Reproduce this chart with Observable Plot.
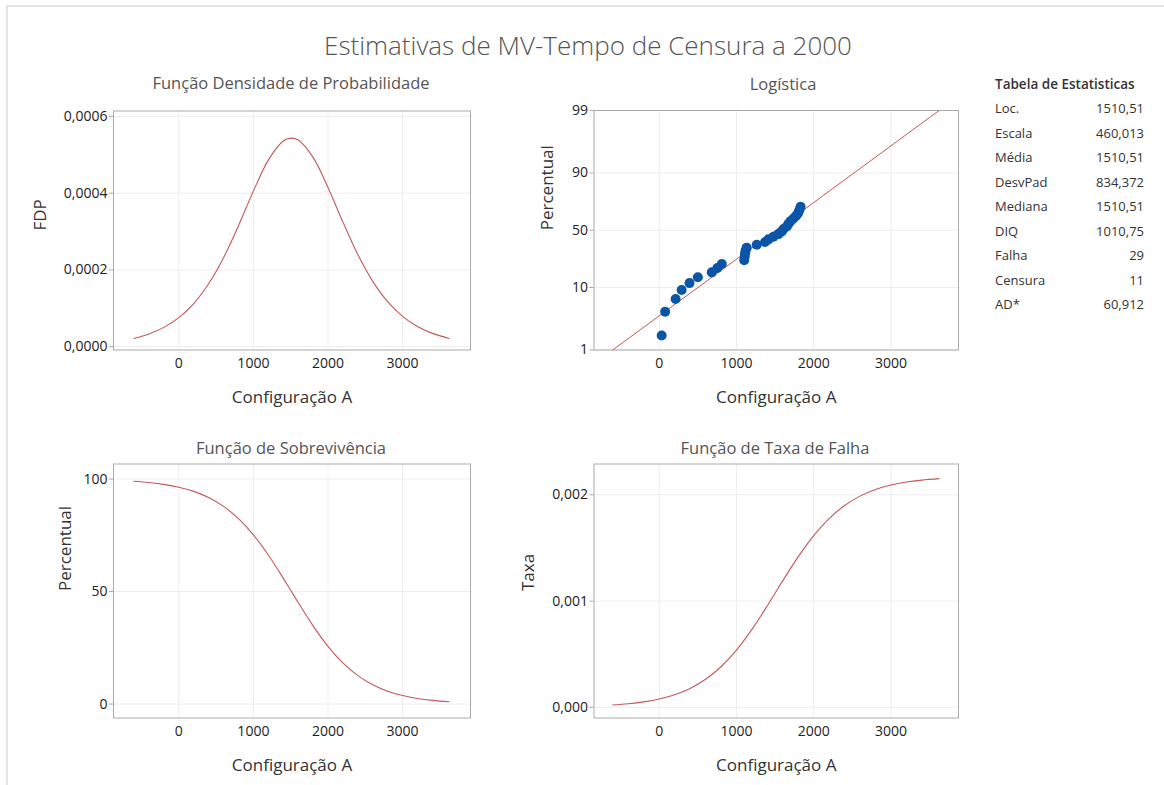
<!DOCTYPE html>
<html>
<head>
<meta charset="utf-8">
<script src="https://cdn.jsdelivr.net/npm/d3@7"></script>
<script src="https://cdn.jsdelivr.net/npm/@observablehq/plot@0.6"></script>
<style>
  body { margin: 0; background: #fff; font-family: "Open Sans", sans-serif; }
  #wrap { position: relative; width: 1164px; height: 785px; overflow: hidden; background: #fff; }
  #border { position: absolute; left: 6px; top: 5px; width: 1200px; height: 800px;
            border-left: 2px solid #e3e3e3; border-top: 2px solid #e3e3e3; }
  .abs { position: absolute; }
  .ctr { transform: translate(-50%, -50%); white-space: nowrap; }
  .main-title { font-size: 26px; color: #555; font-weight: 300; }
  .panel-title { font-size: 16.5px; color: #555; }
  .stat-head { font-size: 13.5px; color: #333; font-weight: 600; }
  .stat { font-size: 13px; color: #333; white-space: nowrap; transform: translateY(-50%); }
</style>
</head>
<body>
<div id="wrap">
  <div id="border"></div>
</div>
<script>
// ---------------- data ----------------
const xGrid = [-603, -400, -200, 0, 200, 400, 600, 800, 1000, 1200, 1400, 1500, 1600, 1800, 2000, 2200, 2400, 2600, 2800, 3000, 3200, 3400, 3624];
const pdfValues = [0.0000215, 0.0000331, 0.0000503, 0.0000757, 0.0001125, 0.0001639, 0.0002319, 0.0003151, 0.0004053, 0.0004860, 0.0005357, 0.0005434, 0.0005384, 0.0004931, 0.0004146, 0.0003245, 0.0002399, 0.0001702, 0.0001172, 0.0000791, 0.0000526, 0.0000347, 0.0000215];
const survivalValues = [99.0, 98.45, 97.63, 96.39, 94.53, 91.79, 87.86, 82.41, 75.21, 66.26, 55.98, 50.57, 45.15, 34.77, 25.65, 18.26, 12.63, 8.56, 5.72, 3.78, 2.48, 1.62, 1.0];
const hazardValues = [0.0000217, 0.0000336, 0.0000515, 0.0000785, 0.0001190, 0.0001785, 0.0002639, 0.0003824, 0.0005389, 0.0007335, 0.0009569, 0.0010745, 0.0011924, 0.0014180, 0.0016163, 0.0017769, 0.0018993, 0.0019878, 0.0020495, 0.0020917, 0.0021199, 0.0021386, 0.0021521];

const failTimes = [31, 76, 212, 290, 392, 500, 680, 752, 810, 1100, 1106, 1110, 1118, 1132, 1263, 1371, 1414, 1479, 1544, 1587, 1609, 1652, 1674, 1700, 1738, 1773, 1800, 1815, 1830];
const failPct = [1.73, 4.21, 6.68, 9.16, 11.63, 14.11, 16.58, 19.06, 21.53, 24.01, 26.49, 28.96, 31.44, 33.91, 36.39, 38.86, 41.34, 43.81, 46.29, 48.76, 51.24, 53.71, 56.19, 58.66, 61.14, 63.61, 66.09, 68.56, 71.04];
const fitX = [-603, 3624];
const fitPct = [1, 99];

const xTicks = [0, 1000, 2000, 3000];
const pdfTicks = [0, 0.0002, 0.0004, 0.0006];
const pctProbTicks = [1, 10, 50, 90, 99];
const survTicks = [0, 50, 100];
const hazardTicks = [0, 0.001, 0.002];

const statLabels = ["Loc.", "Escala", "Média", "DesvPad", "Mediana", "DIQ", "Falha", "Censura", "AD*"];
const statValues = ["1510,51", "460,013", "1510,51", "834,372", "1510,51", "1010,75", "29", "11", "60,912"];

const mainTitle = "Estimativas de MV-Tempo de Censura a 2000";
const panelTitles = ["Função Densidade de Probabilidade", "Logística", "Função de Sobrevivência", "Função de Taxa de Falha"];
const xLabel = "Configuração A";

// ---------------- helpers ----------------
const RED = "#c4585a";
const BLUE = "#0a55a8";
const GRID = "#ededed";
const FRAME = "#a9a9a9";
const wrap = document.getElementById("wrap");
const logit = p => Math.log(p / (100 - p));

function addText(txt, cls, x, y) {
  const d = document.createElement("div");
  d.className = "abs " + cls;
  d.style.left = x + "px"; d.style.top = y + "px";
  d.textContent = txt;
  wrap.appendChild(d);
  return d;
}

function place(svg, left, top) {
  svg.style.position = "absolute";
  svg.style.left = left + "px";
  svg.style.top = top + "px";
  wrap.appendChild(svg);
}

const baseStyle = {fontFamily: "Open Sans, sans-serif", fontSize: "14px", color: "#222", background: "transparent", overflow: "visible"};

function panel({left, top, width, height, mL, mR, mT, mB, xDomain, yDomain, yTicks, yFormat, yLabel, yLabelDx, marks}) {
  const chart = Plot.plot({
    width, height,
    marginLeft: mL, marginRight: mR, marginTop: mT, marginBottom: mB,
    style: baseStyle,
    x: {domain: xDomain},
    y: {domain: yDomain},
    marks: [
      Plot.gridX(xTicks, {stroke: GRID, strokeOpacity: 1}),
      Plot.gridY(yTicks, {stroke: GRID, strokeOpacity: 1}),
      Plot.frame({stroke: FRAME, strokeWidth: 1}),
      Plot.axisX(xTicks, {tickSize: 0, tickPadding: 8, tickFormat: d3.format("d"), label: null}),
      Plot.axisY(yTicks, {tickSize: 4, tickPadding: 2, tickFormat: yFormat, label: null, stroke: FRAME}),
      ...marks,
      Plot.text([xLabel], {frameAnchor: "bottom", dy: 53, fontSize: 17, fill: "#333"}),
      Plot.text([yLabel], {frameAnchor: "left", dx: -yLabelDx, rotate: -90, fontSize: 17, fill: "#333"})
    ]
  });
  place(chart, left, top);
}

// ---------------- titles ----------------
addText(mainTitle, "ctr main-title", 588, 45);
addText(panelTitles[0], "ctr panel-title", 291, 82);
addText(panelTitles[1], "ctr panel-title", 783, 83);
addText(panelTitles[2], "ctr panel-title", 291, 447);
addText(panelTitles[3], "ctr panel-title", 775, 447);

const curve = xGrid.map((x, i) => ({x, pdf: pdfValues[i], surv: survivalValues[i], haz: hazardValues[i]}));
const pts = failTimes.map((x, i) => ({x, p: failPct[i]}));
const fit = fitX.map((x, i) => ({x, p: fitPct[i]}));

// Panel 1: PDF
panel({
  left: 0, top: 60, width: 500, height: 360, mL: 113, mR: 30, mT: 50.5, mB: 70.5,
  xDomain: [-875, 3910], yDomain: [-0.0000086, 0.000614],
  yTicks: pdfTicks, yFormat: v => v.toFixed(4).replace(".", ","),
  yLabel: "FDP", yLabelDx: 73,
  marks: [Plot.line(curve, {x: "x", y: "pdf", stroke: RED, strokeWidth: 1.1, curve: "catmull-rom"})]
});

// Panel 2: Logistic probability plot
panel({
  left: 500, top: 60, width: 480, height: 360, mL: 93.5, mR: 22, mT: 50, mB: 70.5,
  xDomain: [-845, 3875], yDomain: [logit(1), logit(99)],
  yTicks: pctProbTicks.map(logit), yFormat: v => String(Math.round(100 / (1 + Math.exp(-v)))),
  yLabel: "Percentual", yLabelDx: 46,
  marks: [
    Plot.line(fit, {x: "x", y: d => logit(d.p), stroke: RED, strokeWidth: 1}),
    Plot.dot(pts, {x: "x", y: d => logit(d.p), fill: BLUE, r: 5})
  ]
});

// Panel 3: Survival
panel({
  left: 0, top: 420, width: 500, height: 365, mL: 113, mR: 30, mT: 43.5, mB: 67.5,
  xDomain: [-875, 3910], yDomain: [-6.2, 106.7],
  yTicks: survTicks, yFormat: d3.format("d"),
  yLabel: "Percentual", yLabelDx: 48,
  marks: [Plot.line(curve, {x: "x", y: "surv", stroke: RED, strokeWidth: 1.1, curve: "catmull-rom"})]
});

// Panel 4: Hazard
panel({
  left: 500, top: 420, width: 480, height: 365, mL: 93.5, mR: 22, mT: 43.5, mB: 67.5,
  xDomain: [-845, 3875], yDomain: [-0.0001, 0.00229],
  yTicks: hazardTicks, yFormat: v => v.toFixed(3).replace(".", ","),
  yLabel: "Taxa", yLabelDx: 65,
  marks: [Plot.line(curve, {x: "x", y: "haz", stroke: RED, strokeWidth: 1.1, curve: "catmull-rom"})]
});

// ---------------- statistics table ----------------
addText("Tabela de Estatisticas", "stat-head", 995, 75);
statLabels.forEach((lab, i) => {
  const y = 108 + i * 24.5;
  addText(lab, "stat", 995, y);
  const v = addText(statValues[i], "stat", 0, y);
  v.style.left = "auto";
  v.style.right = (1164 - 1144) + "px";
});
</script>
</body>
</html>
